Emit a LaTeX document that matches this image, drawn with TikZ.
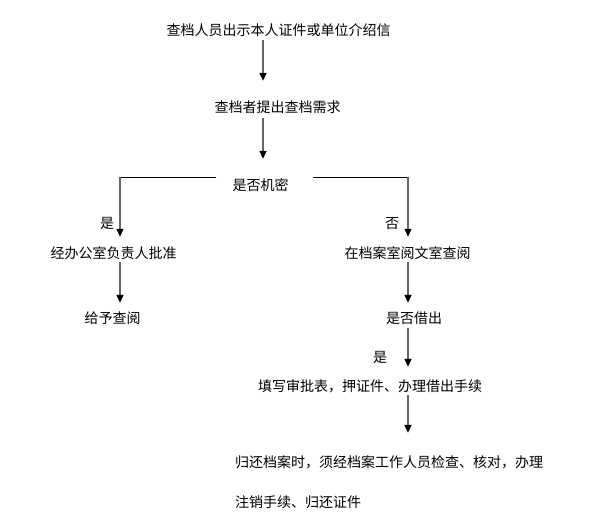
\documentclass[tikz,border=0pt]{standalone}
\usepackage{fontspec}
\newfontfamily\cjk{Noto Sans CJK SC}
\usetikzlibrary{arrows.meta}
\begin{document}
\begin{tikzpicture}[x=1pt,y=-1pt,
  txt/.style={inner sep=0pt,text height=11pt,text depth=0pt,font=\cjk\fontsize{14}{16}\selectfont},
  hline/.style={draw=black,line width=0.8pt},
  arr/.style={draw=black!60,line width=1.4pt,
    arrows={-Triangle[length=8pt,width=7pt,color=black]}},
  vline/.style={draw=black!60,line width=1.4pt}]
\useasboundingbox[fill=white] (0,0) rectangle (594,520);
% column coordinates
\coordinate (colA) at (263,0);
\coordinate (colL) at (120,0);
\coordinate (colR) at (408,0);
% texts
\node[txt] (t1) at (278.5,30) {查档人员出示本人证件或单位介绍信};
\node[txt] (t2) at (277.5,107) {查档者提出查档需求};
\node[txt] (jm) at (260.5,185) {是否机密};
\node[txt] (yes1) at (107,223) {是};
\node[txt] (no1) at (392,223) {否};
\node[txt] (L1) at (113.5,253) {经办公室负责人批准};
\node[txt] (R1) at (407.5,253) {在档案室阅文室查阅};
\node[txt] (L2) at (112.5,318) {给予查阅};
\node[txt] (R2) at (414,318) {是否借出};
\node[txt] (yes2) at (380,357) {是};
\node[txt] (R3) at (370,386) {填写审批表，押证件、办理借出手续};
\node[txt,anchor=west] (R4) at (235,462) {归还档案时，须经档案工作人员检查、核对，办理};
\node[txt,anchor=west] (R5) at (235,502) {注销手续、归还证件};
% corners
\coordinate (jmL) at ([xshift=-16pt,yshift=8pt]jm.west);
\coordinate (jmR) at ([xshift=24pt,yshift=8pt]jm.east);
\coordinate (cL) at (colL |- jmL);
\coordinate (cR) at (colR |- jmR);
% connectors
\draw[arr,shorten <=4.5pt,shorten >=20.5pt] (colA |- t1.south) -- (colA |- t2.north);
\draw[arr,shorten <=5.5pt,shorten >=20.5pt] (colA |- t2.south) -- (colA |- jm.north);
\draw[hline] (jmL) -- (cL);
\draw[hline] (jmR) -- (cR);
\draw[arr,shorten >=10.5pt] (cL) -- (colL |- L1.north);
\draw[arr,shorten >=10.5pt] (cR) -- (colR |- R1.north);
\draw[arr,shorten <=3.5pt,shorten >=9.5pt] (colL |- L1.south) -- (colL |- L2.north);
\draw[arr,shorten <=3.5pt,shorten >=9.5pt] (colR |- R1.south) -- (colR |- R2.north);
\draw[arr,shorten <=4.5pt,shorten >=13.5pt] (colR |- R2.south) -- (colR |- R3.north);
\draw[arr,shorten <=3.5pt,shorten >=23.5pt] (colR |- R3.south) -- (colR |- R4.north);
\end{tikzpicture}
\end{document}
